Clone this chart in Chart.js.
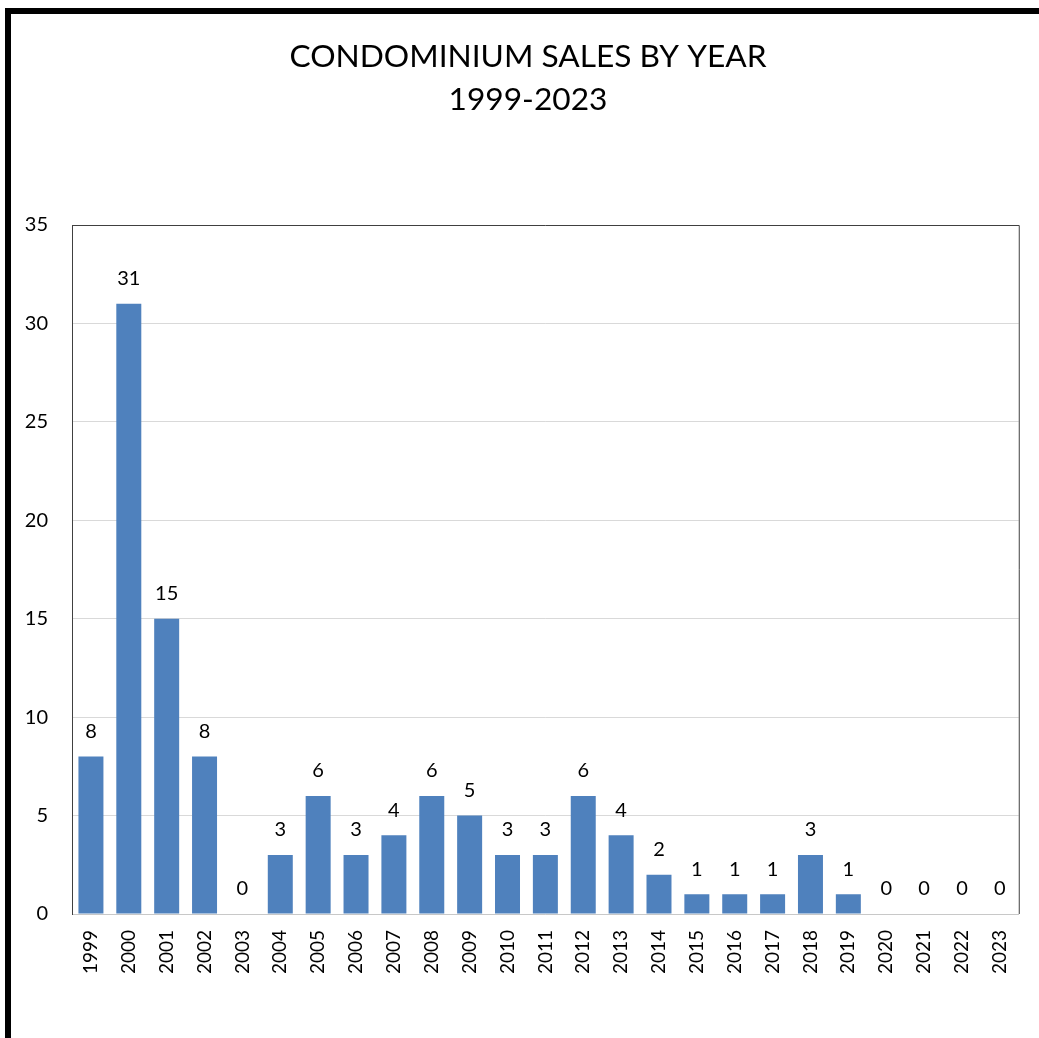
<!DOCTYPE html>
<html>
<head>
<meta charset="utf-8">
<script src="https://cdn.jsdelivr.net/npm/chart.js@4/dist/chart.umd.min.js"></script>
<style>
  html, body { margin: 0; padding: 0; background: #fff; overflow: hidden; }
  #wrap { position: relative; width: 1039px; height: 1038px; }
  #frame { position: absolute; left: 5px; top: 8px; right: 0; bottom: 0;
           border-left: 6px solid #000; border-top: 6px solid #000; pointer-events: none; }
  canvas { position: absolute; left: 0; top: 0; }
</style>
</head>
<body>
<div id="wrap">
  <canvas id="chart" width="1039" height="1038"></canvas>
  <div id="frame"></div>
</div>
<script>
// Yearly condominium sales
const years = ['1999','2000','2001','2002','2003','2004','2005','2006','2007','2008',
               '2009','2010','2011','2012','2013','2014','2015','2016','2017','2018',
               '2019','2020','2021','2022','2023'];
const sales = [8, 31, 15, 8, 0, 3, 6, 3, 4, 6, 5, 3, 3, 6, 4, 2, 1, 1, 1, 3, 1, 0, 0, 0, 0];
const yTicks = [0, 5, 10, 15, 20, 25, 30, 35];
const titleLines = ['CONDOMINIUM SALES BY YEAR', '1999-2023'];

const LABEL_FONT = 'Lato, "Open Sans", sans-serif';

// Two-line heading, centred over the framed panel
const heading = {
  id: 'heading',
  afterDraw(chart) {
    const ctx = chart.ctx;
    ctx.save();
    ctx.font = '31.7px ' + LABEL_FONT;
    ctx.fillStyle = '#000';
    ctx.textAlign = 'center';
    ctx.textBaseline = 'middle';
    const cx = 528;
    titleLines.forEach((line, i) => ctx.fillText(line, cx, 57 + i * 43));
    ctx.restore();
  }
};

// Value labels above each bar
const valueLabels = {
  id: 'valueLabels',
  afterDatasetsDraw(chart) {
    const ctx = chart.ctx;
    const meta = chart.getDatasetMeta(0);
    ctx.save();
    ctx.font = '20px ' + LABEL_FONT;
    ctx.fillStyle = '#000';
    ctx.textAlign = 'center';
    ctx.textBaseline = 'middle';
    meta.data.forEach((bar, i) => {
      ctx.fillText(String(sales[i]), bar.x, bar.y - 25);
    });
    ctx.restore();
  }
};

// Top and right edges of the plot frame
const plotFrame = {
  id: 'plotFrame',
  afterDraw(chart) {
    const a = chart.chartArea;
    const ctx = chart.ctx;
    ctx.save();
    ctx.strokeStyle = '#404040';
    ctx.lineWidth = 1;
    ctx.beginPath();
    ctx.moveTo(a.left, a.top + 0.5);
    ctx.lineTo(a.right + 0.5, a.top + 0.5);
    ctx.lineTo(a.right + 0.5, a.bottom);
    ctx.stroke();
    ctx.restore();
  }
};

new Chart(document.getElementById('chart'), {
  type: 'bar',
  data: {
    labels: years,
    datasets: [{
      data: sales,
      backgroundColor: '#4f81bd',
      borderWidth: 0,
      categoryPercentage: 1,
      barPercentage: 0.66
    }]
  },
  options: {
    responsive: false,
    animation: false,
    events: [],
    layout: { padding: { left: 0, right: 19, top: 225, bottom: 24 } },
    plugins: {
      legend: { display: false },
      tooltip: { enabled: false },
      title: { display: false }
    },
    scales: {
      x: {
        grid: { display: false, drawTicks: false },
        border: { display: true, color: '#c8c8c8', width: 1 },
        ticks: {
          color: '#000',
          font: { family: LABEL_FONT, size: 19 },
          minRotation: 90, maxRotation: 90,
          padding: 16,
          autoSkip: false
        },
        afterFit(scale) { scale.height = 100; }
      },
      y: {
        min: 0, max: 35,
        afterBuildTicks(scale) { scale.ticks = yTicks.map(v => ({ value: v })); },
        grid: { color: '#d9d9d9', drawTicks: false },
        border: { display: true, color: '#404040', width: 1 },
        ticks: {
          color: '#000',
          font: { family: LABEL_FONT, size: 20 },
          padding: 24
        },
        afterFit(scale) { scale.width = 72; }
      }
    }
  },
  plugins: [valueLabels, plotFrame, heading]
});
</script>
</body>
</html>
